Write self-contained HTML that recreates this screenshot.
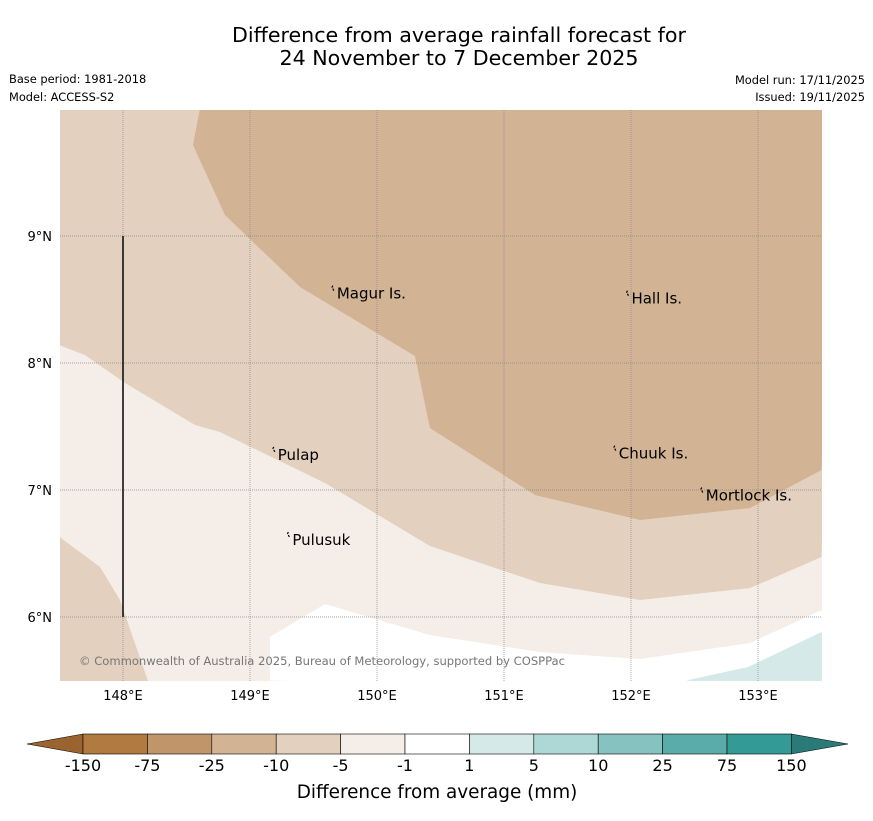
<!DOCTYPE html>
<html><head><meta charset="utf-8"><style>
body{margin:0;background:#fff;width:873px;height:816px;overflow:hidden;font-family:"Liberation Sans","DejaVu Sans",sans-serif}
</style></head><body>
<svg width="873" height="816" xmlns="http://www.w3.org/2000/svg" font-family="DejaVu Sans, Liberation Sans, sans-serif">
<text x="459" y="42" font-size="20.6" text-anchor="middle">Difference from average rainfall forecast for</text>
<text x="459" y="65" font-size="20.6" text-anchor="middle">24 November to 7 December 2025</text>
<text x="9" y="83" font-size="11.4">Base period: 1981-2018</text>
<text x="9" y="101" font-size="11.4">Model: ACCESS-S2</text>
<text x="865" y="84" font-size="11.4" text-anchor="end">Model run: 17/11/2025</text>
<text x="865" y="101" font-size="11.4" text-anchor="end">Issued: 19/11/2025</text>
<defs><clipPath id="mc"><rect x="60" y="110" width="762" height="571"/></clipPath></defs>
<g id="map" clip-path="url(#mc)"></g>
<g id="ticks"></g>
<g id="cbar"></g>
<text x="437" y="798" font-size="18.4" text-anchor="middle">Difference from average (mm)</text>
</svg>
<script>
const NS="http://www.w3.org/2000/svg";
const lonTicks=[148,149,150,151,152,153];
const latTicks=[6,7,8,9];
const band2Top=[[147.5,8.14],[147.7,8.063],[148.016,7.843],[148.567,7.512],[148.764,7.457],[149.591,7.055],[150.417,6.559],[151.283,6.268],[152.071,6.134],[152.937,6.228],[153.5,6.472]];
const band2Patch=[[147.5,6.63],[147.819,6.394],[147.976,6.134],[148.197,5.496]];
const band1Edge=[[148.606,10.0],[148.551,9.717],[148.803,9.165],[149.394,8.598],[150.299,8.055],[150.417,7.488],[151.244,6.961],[152.071,6.764],[152.937,6.858],[153.5,7.157]];
const whiteEdge=[[149.157,5.5],[149.157,5.843],[149.591,6.102],[150.417,5.858],[151.283,5.724],[152.071,5.669],[152.937,5.795],[153.5,6.055]];
const tealEdge=[[152.433,5.5],[152.921,5.606],[153.5,5.882]];
const places=["Magur Is.","Hall Is.","Pulap","Pulusuk","Chuuk Is.","Mortlock Is."];
const placeLon=[149.66,151.98,149.195,149.31,151.88,152.565];
const placeLat=[8.57,8.53,7.30,6.63,7.31,6.98];
const cbLevels=["-150","-75","-25","-10","-5","-1","1","5","10","25","75","150"];
const cbColors=["#b07a40","#c1956a","#d2b394","#e3d0be","#f5ede8","#ffffff","#d5e9e8","#aed8d5","#86c2bf","#5aacaa","#339a96"];
const X=lon=>59.5+(lon-147.5)*127;
const Y=lat=>236+(9-lat)*127;
function el(t,a,p){const e=document.createElementNS(NS,t);for(const k in a)e.setAttribute(k,a[k]);p.appendChild(e);return e;}
const map=document.getElementById('map');
const pts=a=>a.map(p=>X(p[0])+','+Y(p[1])).join(' ');
let r=el('rect',{x:60,y:110,width:762,height:571,fill:'#f5ede8'},map);


let p=el('polygon',{points:pts([[147.5,10.1],...band2Top,[153.6,10.1]]),fill:'#e3d0be'},map);


p=el('polygon',{points:pts([[147.4,6.63],...band2Patch,[147.4,5.4]]),fill:'#e3d0be'},map);


p=el('polygon',{points:pts([...band1Edge,[153.6,10.1]]),fill:'#d2b394'},map);


p=el('polygon',{points:pts([...whiteEdge,[153.6,5.4]]),fill:'#ffffff'},map);


p=el('polygon',{points:pts([...tealEdge,[153.6,5.4]]),fill:'#d5e9e8'},map);


lonTicks.forEach(l=>{const g=el('line',{x1:X(l),x2:X(l),y1:110,y2:681,stroke:'#888','stroke-width':0.7,'stroke-dasharray':'1,1'},map);


const t=el('text',{x:X(l),y:700,'font-size':13,'text-anchor':'middle'},document.getElementById('ticks'));t.textContent=l+'°E';

});
latTicks.forEach(l=>{const g=el('line',{x1:60,x2:822,y1:Y(l),y2:Y(l),stroke:'#888','stroke-width':0.7,'stroke-dasharray':'1,1'},map);


const t=el('text',{x:52,y:Y(l)+5,'font-size':13,'text-anchor':'end'},document.getElementById('ticks'));t.textContent=l+'°N';

});
let ln=el('line',{x1:X(148),x2:X(148),y1:Y(9),y2:Y(6),stroke:'#111','stroke-width':1.6},map);


places.forEach((n,i)=>{const x=X(placeLon[i]),y=Y(placeLat[i]);
const m=el('path',{d:`M${x-2},${y-3} l1,-2 M${x},${y} l-1,-2`,stroke:'#000','stroke-width':1.2,fill:'none'},map);


const t=el('text',{x:x+3,y:y+8,'font-size':15},map);t.textContent=n;

});
const cr=el('text',{x:79,y:665,'font-size':11.6,fill:'#777',textLength:486},map);cr.textContent='© Commonwealth of Australia 2025, Bureau of Meteorology, supported by COSPPac';


const cb=document.getElementById('cbar');const x0=83,w=64.4,y0=734,h=20;
let a=el('polygon',{points:`27,744 ${x0},${y0} ${x0},${y0+h}`,fill:'#9a6330',stroke:'#000','stroke-width':0.5},cb);


cbColors.forEach((c,i)=>{const s=el('rect',{x:x0+i*w,y:y0,width:w,height:h,fill:c,stroke:'#000','stroke-width':0.6},cb);

});
const xe=x0+cbColors.length*w;
a=el('polygon',{points:`${xe},${y0} 848,744 ${xe},${y0+h}`,fill:'#2a7b78',stroke:'#000','stroke-width':0.5},cb);


cbLevels.forEach((l,i)=>{const t=el('text',{x:x0+i*w,y:771,'font-size':16,'text-anchor':'middle'},cb);t.textContent=l;

});
</script>
</body></html>
